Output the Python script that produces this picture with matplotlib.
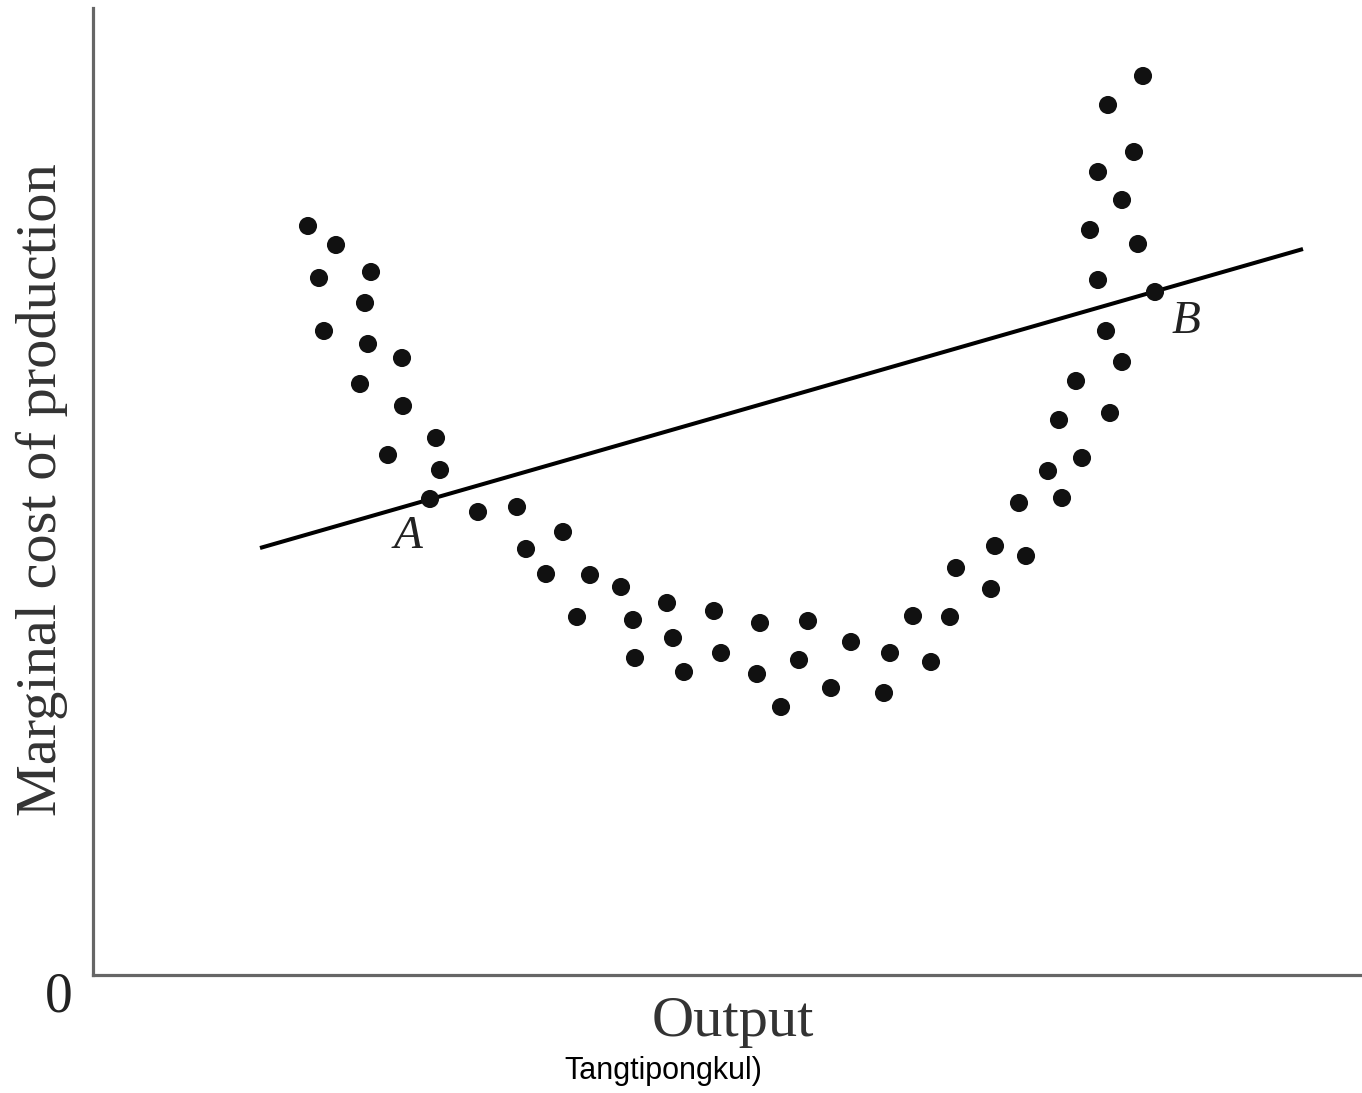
import numpy as np
import matplotlib.pyplot as plt

# dot positions (x = output, y = marginal cost, picture units)
dots_x = [308, 336, 319, 371, 365, 324, 368, 402, 360, 403, 436, 388, 440, 430,
          478, 517, 563, 526, 546, 590, 621, 577, 633, 667, 635, 673, 714, 684,
          721, 760, 757, 808, 799, 781, 851, 831, 890, 884, 913, 931, 950, 956,
          995, 991, 1019, 1026, 1048, 1062, 1059, 1076, 1082, 1110, 1106, 1122,
          1098, 1155, 1090, 1138, 1122, 1098, 1134, 1108, 1143]
dots_py = [226, 245, 278, 272, 303, 331, 344, 358, 384, 406, 438, 455, 470, 499,
           512, 507, 532, 549, 574, 575, 587, 617, 620, 603, 658, 638, 611, 672,
           653, 623, 674, 621, 660, 707, 642, 688, 653, 693, 616, 662, 617, 568,
           546, 589, 503, 556, 471, 498, 420, 381, 458, 413, 331, 362,
           280, 292, 230, 244, 200, 172, 152, 105, 76]
dots_y = [975 - v for v in dots_py]

# straight line through A and B
line_x = [260, 1303]
line_y = [975 - 548, 975 - 249]

serif = ['Liberation Serif', 'DejaVu Serif']

fig = plt.figure(figsize=(13.62, 10.93), dpi=100)
ax = fig.add_axes([93 / 1362, 118 / 1093, 1269 / 1362, 967 / 1093])
ax.set_xlim(93, 1362)
ax.set_ylim(0, 967)

ax.plot(line_x, line_y, color='black', lw=2.9, solid_capstyle='butt', zorder=2)
ax.scatter(dots_x, dots_y, s=170, color='#111111', edgecolors='none', zorder=3)

for side in ['top', 'right']:
    ax.spines[side].set_visible(False)
for side in ['left', 'bottom']:
    ax.spines[side].set_color('#666666')
    ax.spines[side].set_linewidth(2.3)
ax.set_xticks([])
ax.set_yticks([])

ax.text(408, 975 - 537, 'A', family=serif, style='italic', fontsize=34,
        ha='center', va='center', color='#222222')
ax.text(1186, 975 - 322, 'B', family=serif, style='italic', fontsize=34,
        ha='center', va='center', color='#222222')

fig.text(59 / 1362, 1 - 998 / 1093, '0', family=serif, fontsize=40,
         ha='center', va='center', color='#222222')
fig.text(733 / 1362, 1 - 1022 / 1093, 'Output', family=serif, fontsize=42,
         ha='center', va='center', color='#333333')
fig.text(42 / 1362, 1 - 490 / 1093, 'Marginal cost of production', family=serif,
         fontsize=42, rotation=90, ha='center', va='center', color='#333333')
fig.text(663 / 1362, 1 - 1071 / 1093, 'Tangtipongkul)',
         family=['Liberation Sans', 'DejaVu Sans'], fontsize=22,
         ha='center', va='center', color='black')

fig.savefig('out.png', dpi=100)
